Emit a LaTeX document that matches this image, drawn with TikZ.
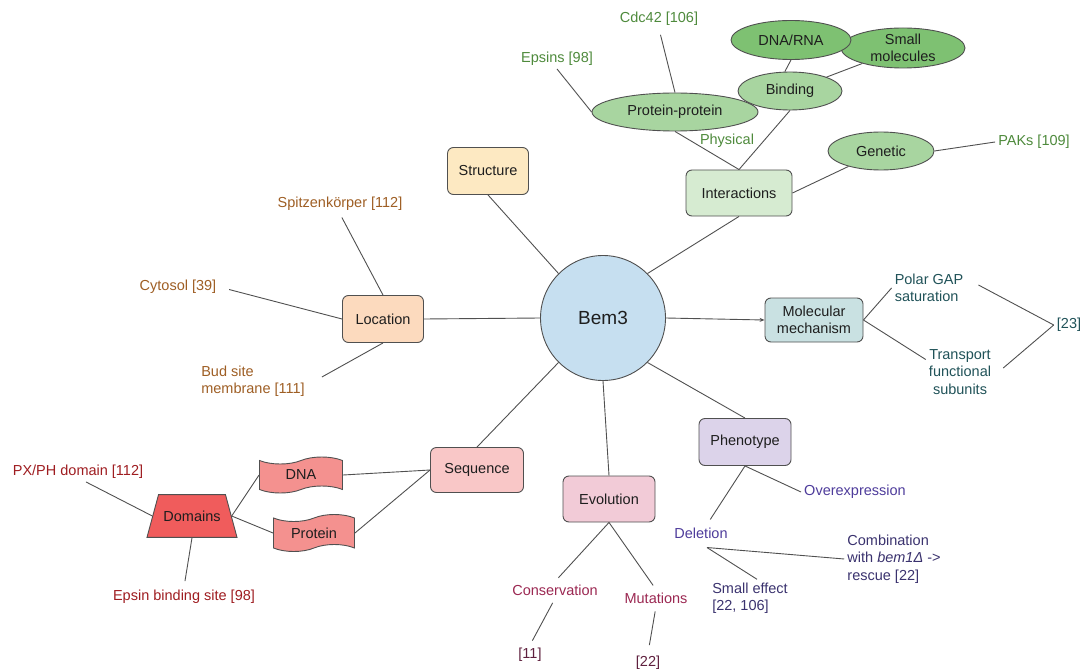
\documentclass[tikz,border=0pt]{standalone}
\usepackage{fontspec}
\setmainfont{Liberation Sans}
\usetikzlibrary{shapes.geometric,shapes.symbols,arrows.meta}
\definecolor{edge}{RGB}{80,80,80}
\definecolor{txt}{RGB}{30,30,30}
\definecolor{bemfill}{RGB}{198,223,240}
\definecolor{strfill}{RGB}{253,233,194}
\definecolor{locfill}{RGB}{252,218,190}
\definecolor{intfill}{RGB}{214,235,209}
\definecolor{mmfill}{RGB}{201,225,226}
\definecolor{seqfill}{RGB}{249,199,199}
\definecolor{evofill}{RGB}{242,203,215}
\definecolor{phenfill}{RGB}{220,211,234}
\definecolor{gmed}{RGB}{168,213,160}
\definecolor{gdark}{RGB}{126,193,114}
\definecolor{tapefill}{RGB}{244,145,143}
\definecolor{domfill}{RGB}{240,92,92}
\definecolor{cgreen}{RGB}{78,138,60}
\definecolor{cbrown}{RGB}{158,94,36}
\definecolor{cteal}{RGB}{32,82,88}
\definecolor{cred}{RGB}{158,28,32}
\definecolor{cpink}{RGB}{155,40,82}
\definecolor{cdpink}{RGB}{95,32,62}
\definecolor{cpurple}{RGB}{78,60,155}
\definecolor{cnavy}{RGB}{58,50,110}
\newcommand\labfont{\fontsize{14.5}{17.5}\selectfont}
\begin{document}
\begin{tikzpicture}[x=1pt,y=-1pt,
  every node/.style={text=txt, font=\labfont},
  box/.style={draw=edge, line width=0.9pt, rounded corners=6pt, inner sep=0pt},
  ell/.style={ellipse, draw=edge, line width=0.9pt, inner sep=0pt, align=center},
  tp/.style={tape, draw=edge, line width=0.9pt, fill=tapefill, inner sep=0pt, tape bend height=7pt},
  lbl/.style={inner sep=3pt},
  con/.style={draw=edge, line width=0.9pt}]
\useasboundingbox (0,0) rectangle (1091,671);

% central node and main boxes
\node[circle, draw=edge, line width=0.9pt, fill=bemfill, minimum size=125, inner sep=0pt, font=\fontsize{19}{22}\selectfont] (bem) at (603,318) {Bem3};
\node[box, fill=strfill, minimum width=81, minimum height=47] (str) at (488,171) {Structure};
\node[box, fill=locfill, minimum width=81, minimum height=47] (loc) at (383,319) {Location};
\node[box, fill=intfill, minimum width=106, minimum height=46] (int) at (739,193) {Interactions};
\node[box, fill=mmfill, minimum width=98, minimum height=44, align=center, font=\fontsize{14.5}{16.5}\selectfont] (mm) at (814,320) {Molecular\\mechanism};
\node[box, fill=seqfill, minimum width=93, minimum height=45] (seq) at (477,470) {Sequence};
\node[box, fill=evofill, minimum width=92, minimum height=46] (evo) at (609,499) {Evolution};
\node[box, fill=phenfill, minimum width=92, minimum height=47] (phen) at (745,442) {Phenotype};

% interaction ellipses
\node[ell, fill=gmed, minimum width=166, minimum height=38] (pp) at (675,112) {Protein-protein};
\node[ell, fill=gdark, minimum width=124, minimum height=40, font=\fontsize{14.5}{17}\selectfont] (sm) at (903,48) {Small\\molecules};
\node[ell, fill=gdark, minimum width=120, minimum height=39] (dna) at (791,40) {DNA/RNA};
\node[ell, fill=gmed, minimum width=104, minimum height=38] (bind) at (790,91) {Binding};
\node[ell, fill=gmed, minimum width=106, minimum height=38] (gen) at (881,151) {Genetic};

% sequence shapes
\node[tp, minimum width=83, minimum height=36] (dnat) at (301,475) {DNA};
\node[tp, minimum width=81, minimum height=37] (prot) at (314,533) {Protein};
\node[trapezium, draw=edge, line width=0.9pt, fill=domfill, trapezium left angle=77, trapezium right angle=77, trapezium stretches=true, minimum width=90, inner xsep=0pt, inner ysep=16pt] (dom) at (192,516) {Domains};

% labels
\node[lbl, text=cgreen] (eps) at (557,59) {Epsins [98]};
\node[lbl, text=cgreen] (cdc) at (659,19) {Cdc42 [106]};
\node[lbl, text=cgreen] (phys) at (727,141) {Physical};
\node[lbl, text=cgreen] (paks) at (1034,142) {PAKs [109]};
\node[lbl, text=cbrown] (spitz) at (340,204) {Spitzenkörper [112]};
\node[lbl, text=cbrown] (cyto) at (178,287) {Cytosol [39]};
\node[lbl, text=cbrown, align=left] (bud) at (253,381) {Bud site\\membrane [111]};
\node[lbl, text=cteal, align=left] (polar) at (929,288) {Polar GAP\\saturation};
\node[lbl, text=cteal, align=center] (trans) at (960,372) {Transport\\functional\\subunits};
\node[lbl, text=cteal] (t23) at (1069,325) {[23]};
\node[lbl, text=cred] (pxph) at (78,472) {PX/PH domain [112]};
\node[lbl, text=cred] (epsb) at (184,597) {Epsin binding site [98]};
\node[lbl, text=cpink] (cons) at (555,590) {Conservation};
\node[lbl, text=cpink] (mut) at (656,598) {Mutations};
\node[lbl, text=cdpink] (r11) at (530,655) {[11]};
\node[lbl, text=cdpink] (r22) at (648,663) {[22]};
\node[lbl, text=cpurple] (over) at (855,492) {Overexpression};
\node[lbl, text=cpurple] (del) at (701,533) {Deletion};
\node[lbl, text=cnavy, align=left] (comb) at (894,559) {Combination\\with \textit{bem1Δ} ->\\rescue [22]};
\node[lbl, text=cnavy, align=left] (small) at (750,598) {Small effect\\{[22, 106]}};

% connectors from Bem3
\draw[con] (bem.45) -- (int.south);
\draw[con] (bem.135) -- (str.south);
\draw[con] (loc.east) -- (bem.west);
\draw[con, -{Stealth[length=5pt,width=4pt]}] (bem.east) -- (mm.west);
\draw[con] (bem.225) -- (seq.north);
\draw[con] (bem.south) -- (evo.north);
\draw[con] (bem.-45) -- (phen.north);

% interactions
\draw[con] (eps.south) -- (pp.west);
\draw[con, shorten <=6pt] (cdc.south) -- (pp.north);
\draw[con] (pp.south) -- (int.north);
\draw[con] (bind.south) -- (int.north);
\draw[con] (bind.105) -- (dna.south);
\draw[con] (bind) -- (sm);
\draw[con] (int.east) -- (gen);
\draw[con] (gen.east) -- (paks.west);

% location
\draw[con, shorten <=4pt] (spitz.south) -- (loc.north);
\draw[con, shorten <=10pt] (cyto.east) -- (loc.west);
\draw[con] ([shift={(14,-4)}]bud.east) -- (loc.south);

% molecular mechanism
\draw[con] (mm.east) -- (polar.west);
\draw[con] (mm.east) -- (trans.160);
\draw[con] ([shift={(12,-3)}]polar.east) -- (t23.west);
\draw[con] ([shift={(9,-4)}]trans.east) -- (t23.west);

% sequence
\draw[con] (dnat.east) -- (seq.west);
\draw[con] (prot.east) -- (seq.west);
\draw[con] (dom.east) -- (dnat.west);
\draw[con] (dom.east) -- (prot.west);
\draw[con] ([xshift=8]pxph.south) -- (dom.west);
\draw[con, shorten >=6pt] (dom.south) -- (epsb.north);

% evolution
\draw[con, shorten >=5pt] (evo.south) -- (cons.north);
\draw[con, shorten >=5pt] (evo.south) -- (mut.north);
\draw[con, shorten <=5pt, shorten >=5pt] (cons.south) -- (r11.north);
\draw[con, shorten <=5pt, shorten >=8pt] (mut.south) -- (r22.north);

% phenotype
\draw[con, shorten >=6pt] (phen.south) -- ([xshift=6]del.north);
\draw[con] (phen.south) -- (over.west);
\coordinate (delpt) at ([shift={(6,6)}]del.south);
\draw[con] (delpt) -- (comb.west);
\draw[con] (delpt) -- ([xshift=7]small.north);
\end{tikzpicture}
\end{document}
